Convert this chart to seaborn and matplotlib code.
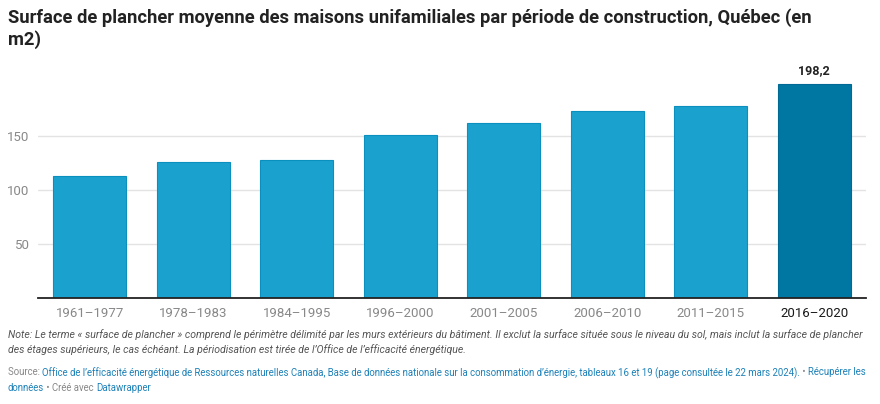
import pandas as pd
import seaborn as sns
import matplotlib.pyplot as plt

# surface de plancher moyenne (m2) par periode de construction
periodes = ['1961–1977', '1978–1983', '1984–1995', '1996–2000',
            '2001–2005', '2006–2010', '2011–2015', '2016–2020']
surface = [113.0, 126.5, 128.0, 151.0, 162.0, 173.5, 178.0, 198.2]
yticks = [50, 100, 150]

df = pd.DataFrame({'periode': periodes, 'surface': surface})

sns.set_theme(style='white')
plt.rcParams['font.family'] = ['Roboto', 'DejaVu Sans']

bleu = '#1aa1cd'
bleu_fonce = '#0076a3'
couleurs = {p: bleu for p in periodes}
couleurs[periodes[-1]] = bleu_fonce

fig = plt.figure(figsize=(8.8, 4.04), dpi=100)
ax = fig.add_axes([38 / 880, 0.2616, 828 / 880, 0.5347])

sns.barplot(data=df, x='periode', y='surface', hue='periode', palette=couleurs,
            legend=False, width=0.71, saturation=1, ax=ax,
            edgecolor='#0a8fbf', linewidth=0.8)
ax.patches[-1].set_edgecolor('#006a94')

ax.set_xlim(-0.5, len(periodes) - 0.5)
ax.set_ylim(0, 200)
ax.set_yticks(yticks)
ax.set_yticklabels([str(t) for t in yticks])
ax.grid(axis='y', color='#e3e3e3', linewidth=1)
ax.set_axisbelow(True)
for s in ['top', 'right', 'left']:
    ax.spines[s].set_visible(False)
ax.spines['bottom'].set_color('#222222')
ax.spines['bottom'].set_linewidth(1.3)
ax.tick_params(axis='y', length=0, pad=6, labelsize=9.5, labelcolor='#888888')
ax.tick_params(axis='x', length=0, pad=6, labelsize=9.5, labelcolor='#888888')
ax.set_xlabel('')
ax.set_ylabel('')
for lbl in ax.get_yticklabels():
    lbl.set_horizontalalignment('right')
lbl_last = ax.get_xticklabels()[-1]
lbl_last.set_color('#1a1a1a')

# etiquette de la derniere barre
ax.annotate('198,2', (len(periodes) - 1, surface[-1]), xytext=(0, 5),
            textcoords='offset points', ha='center', va='bottom',
            fontsize=9, fontweight='bold', color='#222222')

fig.text(8 / 880, 1 - 8 / 404,
         'Surface de plancher moyenne des maisons unifamiliales par période de construction, Québec (en\nm2)',
         ha='left', va='top', fontsize=13.2, fontweight='bold', color='#222222',
         linespacing=1.25)

fig.text(8 / 880, 1 - 329 / 404,
         "Note: Le terme « surface de plancher » comprend le périmètre délimité par les murs extérieurs du bâtiment. Il exclut la surface située sous le niveau du sol, mais inclut la surface de plancher\n"
         "des étages supérieurs, le cas échéant. La périodisation est tirée de l’Office de l’efficacité énergétique.",
         ha='left', va='top', fontsize=7.6, style='italic', color='#555555', linespacing=1.45)

# ligne source avec couleurs mixtes
gris = '#888888'
lien = '#1d81b8'
lignes = [
    [('Source: ', gris),
     ('Office de l’efficacité énergétique de Ressources naturelles Canada, Base de données nationale sur la consommation d’énergie, tableaux 16 et 19 (page consultée le 22 mars 2024).', lien),
     (' • ', gris), ('Récupérer les', lien)],
    [('données', lien), (' • Créé avec ', gris), ('Datawrapper', lien)],
]
renderer = fig.canvas.get_renderer()
y0 = 1 - 367 / 404
for i, ligne in enumerate(lignes):
    x = 8 / 880
    y = y0 - i * 16 / 404
    for txt, col in ligne:
        t = fig.text(x, y, txt, ha='left', va='top', fontsize=6.92, color=col)
        bb = t.get_window_extent(renderer=renderer)
        x += bb.width / fig.bbox.width

fig.savefig('out.png', dpi=100)
